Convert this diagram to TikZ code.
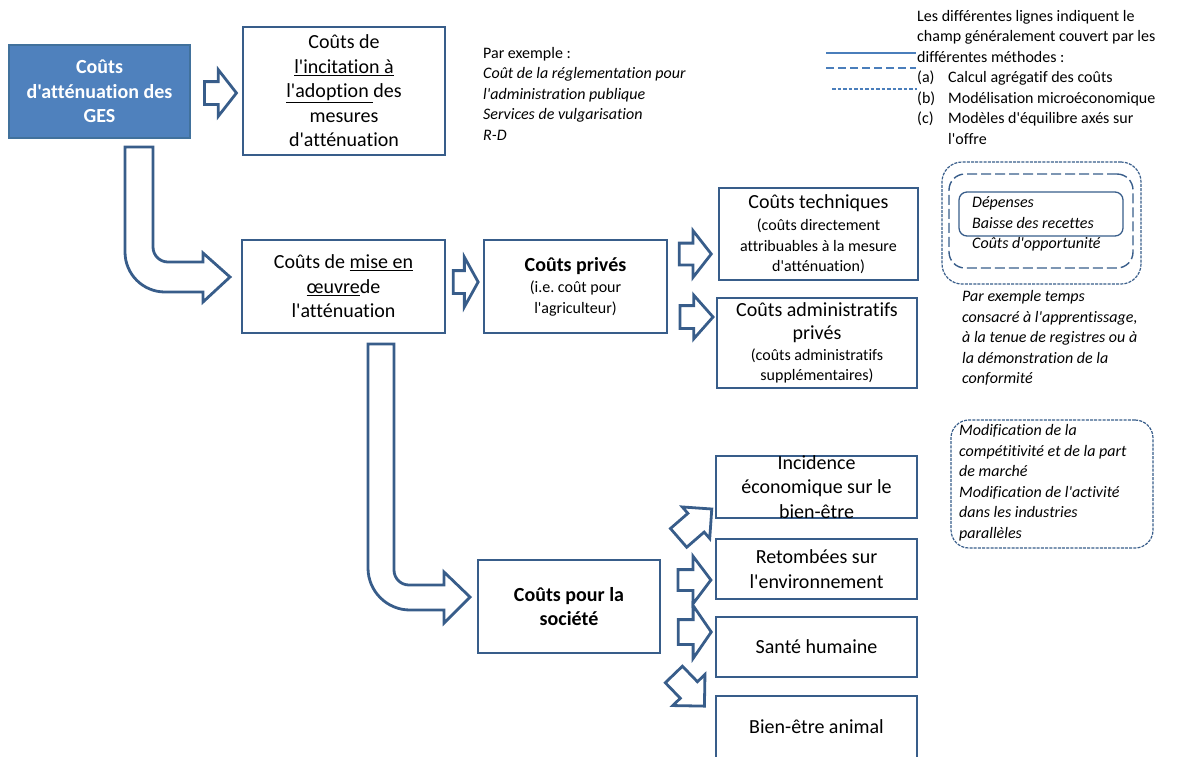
\documentclass[tikz,border=0pt]{standalone}
\usepackage{fontspec}
\setmainfont{Carlito}[Ligatures={TeXOff,NoCommon}]
\usetikzlibrary{shapes.arrows}

\definecolor{boxblue}{HTML}{385D8A}
\definecolor{gesfill}{HTML}{4F81BD}
\definecolor{gesline}{HTML}{41719C}
\definecolor{legline}{HTML}{4A7EBB}

\newcommand{\bigtxt}{\fontsize{20}{24.5}\selectfont}
\newcommand{\smalltxt}{\fontsize{16}{20.5}\selectfont}
\frenchspacing

\tikzset{
  box/.style={draw=boxblue, line width=2.8, fill=white, align=center, inner sep=1, font=\bigtxt},
  txt/.style={align=center, inner sep=0, font=\bigtxt},
  note/.style={align=left, inner sep=0, font=\smalltxt},
  blk/.style={single arrow, draw=boxblue, line width=2.8, fill=white, inner xsep=0, single arrow tip angle=104},
  bent/.style={draw=boxblue, line width=2.8, fill=white, line join=miter},
  frame/.style={draw=boxblue, fill=none},
}

\begin{document}
\begin{tikzpicture}[x=1pt, y=-1pt]
  \useasboundingbox (0,0) rectangle (1177,756);
  \clip (0,0) rectangle (1177,756);

  % Top row: GES costs and incentive costs
  \node[box, fill=gesfill, draw=gesline, line width=1.5, text=white, font=\bigtxt\bfseries,
        minimum width=181, minimum height=93] (ges) at (99.5,91.5) {Coûts\\d'atténuation des\\GES};
  \node[box, minimum width=202, minimum height=128] (incit) at (344,91)
    {Coûts de\\\underline{l'incitation à}\\\underline{l'adoption\ }des\\mesures\\d'atténuation};
  \node[blk, minimum height=32, inner ysep=10, single arrow head extend=12] (ar1) at (216,93) {};
  \node[note, anchor=west] (exincit) at (483,93.5)
    {Par exemple :\\\textit{Coût de la réglementation pour}\\\textit{l'administration publique}\\\textit{Services de vulgarisation}\\\textit{R-D}};

  % Legend
  \node[note, anchor=west] (legend) at (917,77)
    {Les différentes lignes indiquent le\\champ généralement couvert par les\\différentes méthodes :\\
     \makebox[31pt][l]{(a)}Calcul agrégatif des coûts\\
     \makebox[31pt][l]{(b)}Modélisation microéconomique\\
     \makebox[31pt][l]{(c)}Modèles d'équilibre axés sur\\
     \hspace*{31pt}l'offre};
  \coordinate (la) at (826,53);
  \coordinate (lb) at (826,68);
  \coordinate (lc) at (832,89);
  \draw[legline, line width=1.2] (la) -- +(90,0);
  \draw[legline, line width=1.2, dash pattern=on 8 off 4] (lb) -- +(90,0);
  \draw[legline, line width=1.2, dash pattern=on 3.5 off 2] (lc) -- +(85,0);

  % Implementation costs
  \draw[bent] (125,147) -- (153,147) -- (153,247) .. controls (153,255.3) and (159.7,262) .. (168,262)
    -- (203,262) -- (203,253) -- (230,277) -- (203,302) -- (203,292) -- (165,292)
    .. controls (142.9,292) and (125,274.1) .. (125,252) -- cycle;
  \node[box, minimum width=203, minimum height=93] (mise) at (343.5,286.5)
    {Coûts de \underline{mise en}\\\underline{œuvre}de\\l'atténuation};
  \node[blk, minimum height=25, inner ysep=10, single arrow head extend=13.5, single arrow tip angle=122] (ar2) at (462.5,282) {};

  % Private costs
  \node[box, font=\smalltxt, minimum width=183, minimum height=93] (prive) at (575.5,286.5)
    {{\bigtxt\bfseries Coûts privés}\\[1](i.e. coût pour\\l'agriculteur)};
  \node[blk, minimum height=32, inner ysep=9.5, single arrow head extend=12.5] (ar3) at (691,254) {};
  \node[blk, minimum height=33, inner ysep=10, single arrow head extend=10.5, single arrow tip angle=97] (ar4) at (691.5,317) {};
  \node[box, font=\smalltxt, minimum width=199, minimum height=92] (tech) at (818.5,234)
    {{\bigtxt Coûts techniques}\\[2](coûts directement\\attribuables à la mesure\\d'atténuation)};
  \node[box, minimum width=200, minimum height=90] (admin) at (817,343) {};
  \node[txt, font=\smalltxt] (admin-t) at (admin.center)
    {{\bigtxt Coûts administratifs}\\[3]{\bigtxt privés}\\(coûts administratifs\\supplémentaires)};

  % Nested scopes of the methods
  \node[frame, line width=1.2, dash pattern=on 3 off 1.2, rounded corners=20, minimum width=199, minimum height=122] (scopec) at (1041.5,223) {};
  \node[frame, line width=1.4, dash pattern=on 10 off 4, rounded corners=16, minimum width=184, minimum height=94] (scopeb) at (1041,221) {};
  \node[frame, line width=1.3, rounded corners=8, minimum width=164, minimum height=44] (scopea) at (1041,214) {};
  \node[note, anchor=west, font=\smalltxt\itshape] (scope-t) at (972,224) {Dépenses\\Baisse des recettes\\Coûts d'opportunité};
  \node[note, anchor=west, font=\smalltxt\itshape] (exadmin) at (962,338)
    {Par exemple temps\\consacré à l'apprentissage,\\à la tenue de registres ou à\\la démonstration de la\\conformité};

  % Costs for society
  \draw[bent] (368,344) -- (394,344) -- (394,570) .. controls (394,578.3) and (400.7,585) .. (409,585)
    -- (444,585) -- (444,572) -- (470,597) -- (444,623) -- (444,610) -- (410,610)
    .. controls (386.8,610) and (368,591.2) .. (368,568) -- cycle;
  \node[box, font=\bigtxt\bfseries, minimum width=182, minimum height=93] (soc) at (569,606.5) {Coûts pour la\\société};
  \node[blk, minimum height=44, inner ysep=11, single arrow head extend=8.5, single arrow tip angle=90, rotate=41] (ar5) at (690.5,527.5) {};
  \node[blk, minimum height=33, inner ysep=9, single arrow head extend=13.5, single arrow tip angle=106] (ar6) at (690.5,580) {};
  \node[blk, minimum height=33, inner ysep=11, single arrow head extend=14, single arrow tip angle=111] (ar7) at (690.5,632) {};
  \node[blk, minimum height=44, inner ysep=10.5, single arrow head extend=10.5, single arrow tip angle=90, rotate=-46] (ar8) at (685,686) {};

  \node[box, minimum width=201, minimum height=62] (incid) at (816.5,487) {};
  \node[txt] (incid-t) at (incid.center) {Incidence\\économique sur le\\bien-être};
  \node[box, minimum width=201, minimum height=60] (retomb) at (816.5,569) {Retombées sur\\l'environnement};
  \node[box, minimum width=201, minimum height=60] (sante) at (816.5,647) {Santé humaine};
  \node[box, minimum width=201, minimum height=70] (animal) at (816.5,731) {};
  \node[txt] (animal-t) at (816.5,727) {Bien-être animal};

  % Market effects
  \node[frame, line width=1.2, dash pattern=on 3 off 1.2, rounded corners=18, minimum width=202, minimum height=128] (marche) at (1052,484) {};
  \node[note, anchor=west, font=\smalltxt\itshape] (marche-t) at (959,482.5)
    {Modification de la\\compétitivité et de la part\\de marché\\Modification de l'activité\\dans les industries\\parallèles};
\end{tikzpicture}
\end{document}
